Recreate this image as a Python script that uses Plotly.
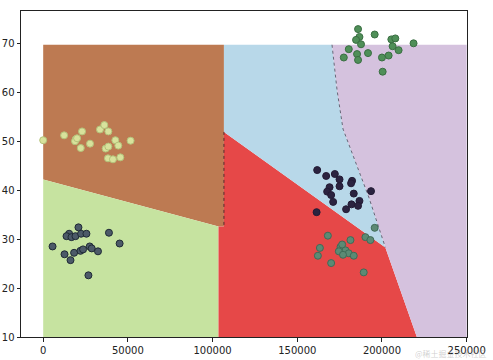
import plotly.graph_objects as go

# ---- decision-region boundaries (data coordinates) ----
brown_x = [0, 0, 106700, 106700, 106700, 103500, 0]
brown_y = [42.2, 69.7, 69.7, 51.9, 32.6, 32.6, 42.2]

green_x = [0, 0, 103500, 103500, 0]
green_y = [10, 42.2, 32.6, 10, 10]

red_x = [103500, 103500, 106700, 106700, 202000, 220600, 103500]
red_y = [10, 32.6, 32.6, 51.9, 28.3, 10, 10]

# blue / purple boundary (top to bottom)
bp_x = [170500, 173500, 177000, 185000, 192200, 202000]
bp_y = [69.7, 60.4, 52.5, 45.0, 38.6, 28.3]

blue_x = [106700, 106700] + bp_x + [106700]
blue_y = [51.9, 69.7] + bp_y + [51.9]

purple_x = [250000, 250000, 220600] + bp_x[::-1] + [250000]
purple_y = [69.7, 10, 10] + bp_y[::-1] + [69.7]

# ---- scatter clusters ----
c1_x = [0, 12350, 19240, 18800, 20000, 22940, 22180, 27650, 33530, 36100, 38470,
        36880, 38470, 42590, 44350, 38240, 41180, 45530, 51590]
c1_y = [50.2, 51.2, 50.4, 50.0, 50.6, 52.0, 48.6, 49.5, 52.4, 53.3, 52.0,
        48.5, 48.9, 50.2, 49.1, 46.5, 46.3, 46.7, 50.1]

c2_x = [5530, 20820, 15300, 13760, 16700, 19060, 22350, 25530, 38820, 45120,
        12590, 16120, 18240, 22000, 23530, 27470, 28650, 32350, 26710]
c2_y = [28.5, 32.4, 31.1, 30.6, 30.4, 30.6, 31.1, 31.1, 31.3, 29.1,
        26.9, 25.7, 27.2, 27.6, 27.9, 28.5, 28.1, 27.5, 22.6]

c3_x = [161760, 167060, 172170, 174940, 174940, 182350, 181760, 169060, 167650,
        170000, 171180, 183350, 193530, 186700, 182000, 185880, 178820, 161410]
c3_y = [44.1, 42.9, 43.3, 42.2, 40.8, 41.9, 41.4, 40.6, 39.7,
        39.0, 37.6, 39.3, 39.8, 37.8, 37.1, 36.8, 36.1, 35.5]

c4_x = [168060, 181410, 163350, 162170, 175520, 178470, 174530, 180410, 183350,
        170000, 189230, 190230, 193170, 195700, 177000, 176500]
c4_y = [30.7, 29.8, 28.2, 26.6, 28.4, 27.7, 27.5, 27.1, 26.6,
        25.1, 23.2, 30.4, 29.8, 32.3, 26.8, 28.9]

c5_x = [185880, 195700, 186700, 184700, 187640, 180410, 185290, 185880, 191760,
        177470, 205530, 207880, 206290, 209820, 218650, 200000, 203940, 200410]
c5_y = [72.9, 71.8, 71.3, 70.7, 69.8, 68.8, 67.8, 66.6, 68.0,
        67.1, 70.8, 71.0, 69.4, 68.6, 70.0, 67.1, 67.5, 64.2]

x_ticks = [0, 50000, 100000, 150000, 200000, 250000]
y_ticks = [10, 20, 30, 40, 50, 60, 70]

fig = go.Figure()

regions = [
    (brown_x, brown_y, "#bd7a52"),
    (green_x, green_y, "#c6e3a0"),
    (red_x, red_y, "#e64848"),
    (blue_x, blue_y, "#b8d8e9"),
    (purple_x, purple_y, "#d5c2de"),
]
for rx, ry, col in regions:
    fig.add_trace(go.Scatter(x=rx, y=ry, mode="lines", fill="toself",
                             fillcolor=col, line=dict(width=0, color=col),
                             hoverinfo="skip", showlegend=False))

# dotted boundary lines
fig.add_trace(go.Scatter(x=bp_x, y=bp_y, mode="lines",
                         line=dict(color="#666677", width=1, dash="dot"),
                         hoverinfo="skip", showlegend=False))
fig.add_trace(go.Scatter(x=[106700, 106700], y=[51.9, 32.6], mode="lines",
                         line=dict(color="#552a2a", width=1, dash="dot"),
                         hoverinfo="skip", showlegend=False))

clusters = [
    (c1_x, c1_y, "#d8e29c", "#b3c27a"),
    (c2_x, c2_y, "#4c5a68", "#1f2a35"),
    (c3_x, c3_y, "#2b2340", "#231b35"),
    (c4_x, c4_y, "#5c8a74", "#3f6b57"),
    (c5_x, c5_y, "#4f8f58", "#3a6e42"),
]
for cx, cy, fc, ec in clusters:
    fig.add_trace(go.Scatter(x=cx, y=cy, mode="markers",
                             marker=dict(size=7, color=fc,
                                         line=dict(color=ec, width=1)),
                             showlegend=False))

axis_common = dict(showgrid=False, zeroline=False, showline=True, mirror=True,
                   linecolor="#222222", linewidth=1, ticks="outside",
                   ticklen=3.5, tickwidth=0.8, tickcolor="#222222",
                   automargin=False,
                   tickfont=dict(family="DejaVu Sans", size=10, color="#222222"))

fig.update_xaxes(range=[-13100, 250200], tickvals=x_ticks,
                 ticktext=[str(v) for v in x_ticks], **axis_common)
fig.update_yaxes(range=[10, 76.6], tickvals=y_ticks,
                 ticktext=[str(v) for v in y_ticks], **axis_common)

fig.add_annotation(text="@稀土掘金技术社区", xref="paper", yref="paper",
                   x=1.05, y=-0.05, xanchor="right", yanchor="middle",
                   showarrow=False,
                   font=dict(family="Noto Sans CJK SC", size=8,
                             color="rgba(150,150,150,0.45)"))

fig.update_layout(width=493, height=360,
                  margin=dict(l=21, r=26, t=11, b=23, autoexpand=False),
                  paper_bgcolor="white", plot_bgcolor="white")

fig.write_html("out.html", config={"displayModeBar": False},
               post_script="document.body.style.margin='0';"
                           "document.body.style.overflow='hidden';")
